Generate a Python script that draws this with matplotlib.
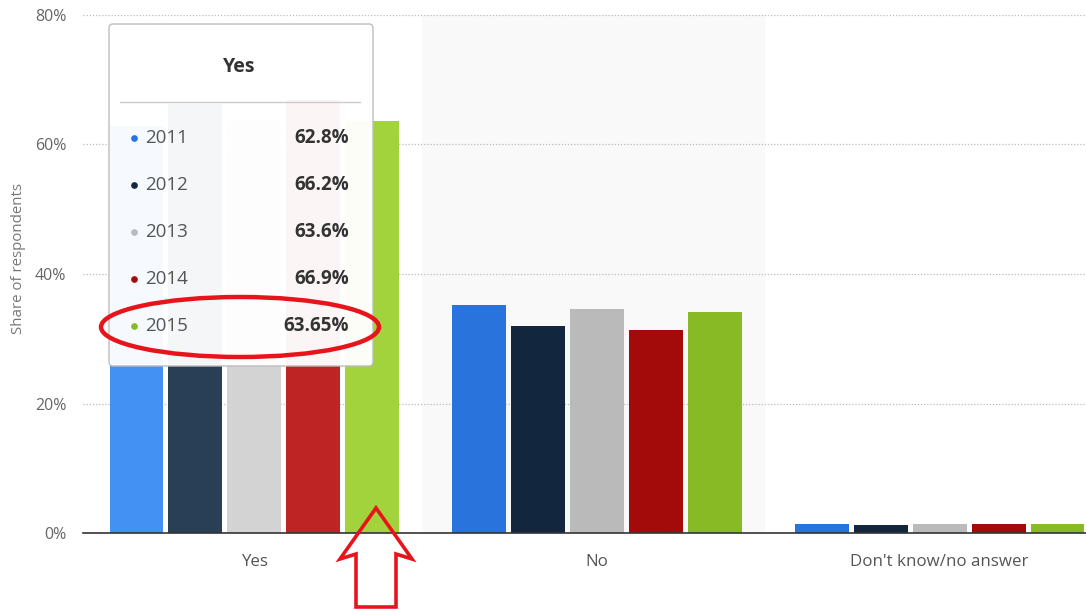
import matplotlib
matplotlib.use("Agg")
import matplotlib.pyplot as plt
from matplotlib.patches import FancyBboxPatch, Ellipse, Polygon
import numpy as np

plt.rcParams['font.family'] = ['Open Sans', 'DejaVu Sans']

categories = ["Yes", "No", "Don't know/no answer"]
years = ["2011", "2012", "2013", "2014", "2015"]
values = {
    "2011": [62.8, 35.2, 1.4],
    "2012": [66.2, 32.0, 1.2],
    "2013": [63.6, 34.6, 1.4],
    "2014": [66.9, 31.3, 1.4],
    "2015": [63.65, 34.2, 1.4],
}
tooltip_labels = ["62.8%", "66.2%", "63.6%", "66.9%", "63.65%"]
yticks = [0, 20, 40, 60, 80]

colors = ["#2874dc", "#12263d", "#bababa", "#a30b0b", "#88ba25"]
hover_colors = ["#4391f2", "#283f55", "#d3d3d3", "#bf2424", "#a2d33c"]

W, H = 1086, 610
fig = plt.figure(figsize=(W / 100, H / 100), dpi=100)
ax_left, ax_right, ax_top, ax_bot = 83, 1111, 15, 533
ax = fig.add_axes([ax_left / W, 1 - ax_bot / H, (ax_right - ax_left) / W, (ax_bot - ax_top) / H])

x = np.arange(len(categories))
step = 0.172
width = 0.157
ax.axvspan(0.49, 1.49, color="#f9f9f9", zorder=0, lw=0)
for i, yr in enumerate(years):
    vals = values[yr]
    for j, v in enumerate(vals):
        c = hover_colors[i] if j == 0 else colors[i]
        ax.bar(x[j] + (i - 2) * step, v, width, color=c, zorder=2, lw=0)

ax.set_xlim(-0.5, 2.5)
ax.set_ylim(0, 80)
ax.set_yticks(yticks)
ax.set_yticklabels([f"{t}%" for t in yticks], color="#666666", fontsize=11.5)
ax.set_xticks(x)
ax.set_xticklabels(categories, color="#555555", fontsize=12.2)
ax.tick_params(axis="both", length=0)
ax.tick_params(axis="y", pad=12)
ax.tick_params(axis="x", pad=15)
for t in yticks[1:]:
    ax.axhline(t, color="#bbbbbb", lw=0.9, ls=(0, (1, 1.5)), zorder=1)
for s in ["top", "right", "left"]:
    ax.spines[s].set_visible(False)
ax.spines["bottom"].set_color("#333333")
ax.spines["bottom"].set_linewidth(1.2)
ax.spines["bottom"].set_zorder(3)
fig.text(19 / W, 1 - 258 / H, "Share of respondents", rotation=90, va="center", ha="center",
         fontsize=10.8, color="#777777")

# overlay in pixel coordinates for tooltip and annotations
ov = fig.add_axes([0, 0, 1, 1], facecolor="none")
ov.set_xlim(0, W)
ov.set_ylim(H, 0)
ov.axis("off")

box = FancyBboxPatch((109, 24), 264, 342, boxstyle="round,pad=0,rounding_size=4",
                     fc="white", ec="#bbbbbb", lw=1, alpha=0.96, zorder=5)
ov.add_patch(box)
ov.text(239, 67, "Yes", ha="center", va="center", fontsize=14, fontweight="bold", color="#333333", zorder=6)
ov.plot([120, 360], [102, 102], color="#cccccc", lw=1, zorder=6)
rows_y = [138, 185, 232, 279, 326]
for i, yr in enumerate(years):
    ov.plot(134, rows_y[i], "o", ms=3.8, color=colors[i], zorder=6)
    ov.text(145, rows_y[i], yr, ha="left", va="center", fontsize=13.5, color="#555555", zorder=6)
    ov.text(349, rows_y[i], tooltip_labels[i], ha="right", va="center", fontsize=13.5,
            fontweight="bold", color="#333333", zorder=6)

ell = Ellipse((240, 327), 278, 60, fill=False, ec="#e8141c", lw=3.2, zorder=7)
ov.add_patch(ell)
arrow = Polygon([[376, 508], [412, 559], [396, 554], [396, 607], [356, 607], [356, 554], [340, 559]],
                closed=True, fill=False, ec="#e8141c", lw=2.6, zorder=7, joinstyle="miter")
ov.add_patch(arrow)

fig.savefig("out.png", dpi=100)
